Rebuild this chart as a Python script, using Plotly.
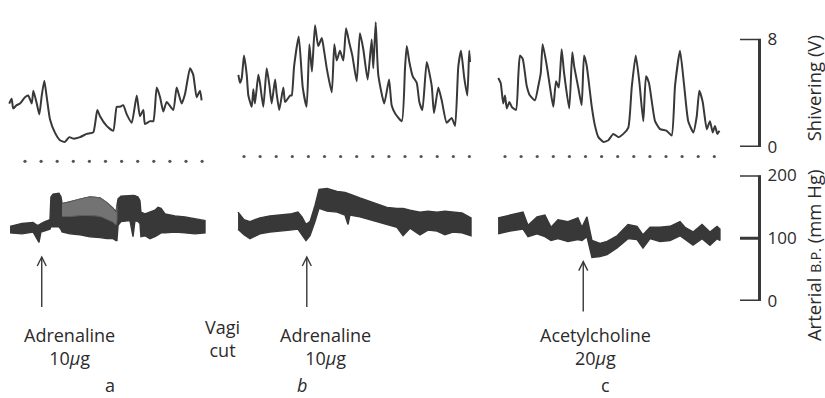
import plotly.graph_objects as go

W, H = 825, 398
FONT = "Open Sans"
INK = "#383838"
TXT = "#2b2b2b"

# ---------------- data (time in marker intervals, shivering in V, B.P. in mm Hg) -------------
shiv_a_t = [-0.98,-0.83,-0.73,-0.52,-0.31,0,0.2,0.42,0.52,0.73,0.89,1.04,1.2,1.35,1.55,1.86,2.17,2.48,2.75,3.0,
            3.42,3.83,4.24,4.49,4.66,5.07,5.48,5.7,5.9,6.1,6.32,6.63,6.94,7.14,7.35,7.45,7.76,7.97,8.18,8.39,
            8.59,8.8,9.21,9.42,9.73,9.94,10.25,10.45,10.66,10.87,10.97]
shiv_a_v = [3.21,3.56,2.85,3.09,3.21,3.68,3.8,3.21,4.16,3.21,2.41,3.8,4.9,3.68,2.05,1.06,0.5,0.38,0.73,0.62,
            0.73,0.97,1.08,2.74,2.27,1.56,1.2,2.97,2.97,3.09,2.41,1.79,3.8,2.27,2.74,1.7,1.91,1.91,4.39,3.68,
            2.62,3.33,2.74,4.39,3.21,3.92,5.81,5.33,3.68,4.16,3.45]

shiv_b_t = [-0.35,-0.25,-0.14,0,0.17,0.27,0.48,0.58,0.68,0.89,0.99,1.2,1.41,1.57,1.72,1.93,2.03,2.19,2.44,2.55,
            2.65,2.86,2.96,3.11,3.4,3.65,3.89,4.06,4.22,4.41,4.61,4.83,4.93,5.14,5.45,5.61,5.76,5.96,6.17,6.34,
            6.54,6.73,7.0,7.2,7.41,7.68,7.93,8.03,8.18,8.34,8.71,9.01,9.17,9.38,9.8,10.0,10.11,10.27,10.48,10.73,
            10.89,11.08,11.35,11.66,11.8,12.07,12.28,12.59,12.9,13.11,13.31,13.48,13.68,13.87,13.99,14.04]
shiv_b_v = [5.33,4.74,5.10,6.75,5.33,3.80,2.97,4.27,3.21,5.33,4.74,2.97,5.81,4.62,3.21,4.98,3.92,2.74,4.39,3.33,
            3.45,3.80,3.80,5.93,8.16,4.39,2.97,7.58,5.57,8.99,7.45,8.05,7.45,5.81,4.04,7.58,6.39,7.10,6.39,8.76,
            7.70,6.75,4.86,8.40,7.22,4.98,7.93,5.81,9.22,5.33,3.21,4.98,3.09,2.50,1.91,5.81,7.45,6.28,5.22,4.74,
            3.33,2.74,6.28,4.51,2.50,4.39,3.45,1.79,2.15,1.56,5.93,7.10,5.10,3.80,7.10,6.28]

shiv_c_t = [-0.42,-0.27,-0.11,0,0.11,0.27,0.42,0.68,0.83,0.93,1.1,1.35,1.55,1.86,2.07,2.22,2.34,2.59,2.8,3.0,
            3.17,3.34,3.52,3.66,3.99,4.18,4.3,4.55,4.76,4.91,5.07,5.39,5.59,5.8,6.11,6.42,6.73,7.04,7.35,7.66,
            7.87,8.12,8.34,8.59,8.76,8.94,9.32,9.63,10.04,10.35,10.56,10.87,11.12,11.38,11.7,11.91,12.07,12.28,
            12.53,12.73,12.9,13.04,13.19,13.32]
shiv_c_v = [5.10,4.74,3.21,3.80,2.85,3.33,2.97,2.74,5.33,6.75,6.51,4.51,3.80,3.45,4.51,5.45,7.58,6.04,4.39,2.97,
            4.86,4.39,7.22,5.57,2.85,6.99,5.93,4.39,3.09,6.75,6.04,2.97,1.56,0.73,0.38,0.50,0.97,0.73,0.97,1.44,
            4.39,6.75,4.86,1.91,5.22,4.74,1.91,1.32,1.20,0.85,4.51,7.10,4.62,1.91,1.08,2.27,4.16,3.33,
            1.32,1.91,1.08,1.56,0.97,1.20]

bp_a_t = [-0.93,-0.19,0.5,0.75,0.87,0.99,1.24,1.55,1.61,1.74,2.11,2.24,2.3,2.8,3.42,4.04,4.66,5.09,5.47,5.65,
          5.71,5.78,5.96,6.52,6.71,6.83,7.02,7.14,7.2,7.45,7.76,8.07,8.26,8.45,8.7,9.32,9.94,10.56,11.18]
bp_a_sys = [118.8,123.3,124.8,120.3,121.0,123.3,126.3,129.3,165.4,169.9,171.4,165.4,154.9,157.9,162.4,165.4,163.9,
            156.4,147.4,141.4,151.9,162.4,166.9,168.4,168.0,167.5,165.4,159.4,141.4,138.4,141.4,144.4,148.9,147.4,
            138.4,135.3,133.8,130.8,127.8]
bp_a_dia = [108.3,106.8,109.8,99.2,93.2,109.8,111.3,114.3,118.0,118.0,118.0,113.8,109.8,106.8,105.3,102.3,100.8,
            99.2,99.2,96.2,96.2,120.3,126.3,127.8,102.3,127.8,126.3,123.3,102.3,103.8,99.2,102.3,105.3,108.3,
            108.3,109.8,108.3,106.8,108.3]

bp_b_t = [-0.37,0,0.37,0.99,1.61,2.24,2.86,3.35,3.6,3.85,4.1,4.41,4.66,5.16,5.78,6.27,6.46,6.58,7.2,8.01,
          8.88,9.5,9.88,10.31,10.93,11.43,11.99,12.48,12.98,13.54,14.1]
bp_b_sys = [141.4,129.3,126.3,132.3,135.3,136.8,138.3,141.4,133.8,121.8,126.3,151.9,177.4,179.0,174.4,172.9,171.4,
            169.9,163.9,156.4,148.9,147.4,147.4,144.4,141.4,142.9,141.4,142.9,141.4,139.9,132.3]
bp_b_dia = [114.3,105.3,99.2,106.8,109.8,111.3,112.8,114.3,105.3,96.2,103.8,126.3,147.4,142.9,141.4,136.8,121.8,
            136.8,133.8,127.8,121.8,117.3,103.8,115.8,105.3,112.8,111.3,105.3,109.8,108.3,103.8]

bp_c_t = [-0.43,0.31,1.12,1.43,1.99,2.48,2.86,3.29,3.91,4.53,4.78,5.09,5.4,5.9,6.34,6.96,7.64,8.2,8.57,9.01,
          9.63,10.25,10.87,11.18,11.68,12.24,12.73,13.17,13.35]
bp_c_sys = [132.3,136.8,141.4,120.3,133.8,136.8,117.3,129.3,126.3,132.3,117.3,133.8,96.2,91.7,94.7,103.8,121.8,
            118.8,105.3,117.3,117.3,118.8,126.3,117.3,109.8,121.8,109.8,118.8,114.3]
bp_c_dia = [106.8,111.3,114.3,102.3,106.8,102.3,96.2,99.2,94.7,97.7,96.2,102.3,69.2,70.7,73.7,84.2,99.2,97.7,
            84.2,99.2,94.7,96.2,103.8,97.7,88.7,99.2,88.7,99.2,96.2]

# segment of trace a where the pen swings widely (drawn lighter), as sample indices
bp_a_light = (12, 21)

# time-marker dots
marks_a = list(range(12))
marks_b = list(range(15))
marks_c = list(range(14))
mark_level = [-1.06, -0.70, -0.70]      # V

# injection times (marker intervals)
dose_t = [1.04, 3.9, 4.86]
dose_text = ["Adrenaline<br>10<i>μ</i>g", "Adrenaline<br>10<i>μ</i>g", "Acetylcholine<br>20<i>μ</i>g"]
panel_letters = ["a", "<i>b</i>", "c"]

shiv_ticks = [0, 8]
bp_ticks = [0, 100, 200]

# ---------------- geometry ----------------
PX_PER_T = 16.1
panel_px = [(8, 207, 25), (236, 474, 244), (496, 722, 505)]   # left, right, px of t=0
SH0, SH_PER = 143.3, 14.375
BP0, BP_PER = 306.7, 0.667
BAR_X = 759.5
TICK_L = 740

def yf(py):
    return 1 - py / H

def v_at(py):
    return (SH0 - py) / SH_PER

def p_at(py):
    return (BP0 - py) / BP_PER

fig = go.Figure()
xnames = ["x", "x2", "x3"]
shiv = [(shiv_a_t, shiv_a_v), (shiv_b_t, shiv_b_v), (shiv_c_t, shiv_c_v)]
bps = [(bp_a_t, bp_a_sys, bp_a_dia), (bp_b_t, bp_b_sys, bp_b_dia), (bp_c_t, bp_c_sys, bp_c_dia)]
marks = [marks_a, marks_b, marks_c]

for i in range(3):
    t, v = shiv[i]
    fig.add_trace(go.Scatter(x=t, y=v, xaxis=xnames[i], yaxis="y", mode="lines",
                             line=dict(color=INK, width=2.0, shape="spline", smoothing=0.5),
                             hoverinfo="skip", showlegend=False))
    bt, bs, bd = bps[i]
    fig.add_trace(go.Scatter(x=bt + bt[::-1], y=bs + bd[::-1], xaxis=xnames[i], yaxis="y2",
                             mode="lines", fill="toself", fillcolor=INK,
                             line=dict(color=INK, width=1.4), hoverinfo="skip", showlegend=False))
    if i == 0:
        a, b = bp_a_light
        lt = bt[a:b]
        top = bs[a:b]
        mid = [(s + d) / 2 + 2 for s, d in zip(bs[a:b], bd[a:b])]
        fig.add_trace(go.Scatter(x=lt + lt[::-1], y=top + mid[::-1], xaxis="x", yaxis="y2",
                                 mode="lines", fill="toself", fillcolor="#737373",
                                 line=dict(color="#5e5e5e", width=1.0, shape="spline", smoothing=0.6),
                                 hoverinfo="skip", showlegend=False))
    fig.add_trace(go.Scatter(x=marks[i], y=[mark_level[i]] * len(marks[i]), xaxis=xnames[i], yaxis="y",
                             mode="markers", marker=dict(size=3.2, color="#555555"),
                             hoverinfo="skip", showlegend=False, cliponaxis=False))

# dummy traces that carry the scale axes
fig.add_trace(go.Scatter(x=[0.5], y=[0], xaxis="x4", yaxis="y3", mode="markers",
                         marker=dict(opacity=0), hoverinfo="skip", showlegend=False))
fig.add_trace(go.Scatter(x=[0.5], y=[0], xaxis="x4", yaxis="y4", mode="markers",
                         marker=dict(opacity=0), hoverinfo="skip", showlegend=False))

layout = dict(
    width=W, height=H, margin=dict(l=0, r=0, t=0, b=0),
    paper_bgcolor="white", plot_bgcolor="rgba(0,0,0,0)",
    font=dict(family=FONT, color=TXT),
    showlegend=False,
)
for i, (l, r, z) in enumerate(panel_px):
    key = "xaxis" if i == 0 else "xaxis%d" % (i + 1)
    layout[key] = dict(domain=[l / W, r / W], range=[(l - z) / PX_PER_T, (r - z) / PX_PER_T],
                       visible=False, fixedrange=True)
layout["xaxis4"] = dict(domain=[0, 1], range=[0, 1], visible=False)
layout["yaxis"] = dict(domain=[yf(165), yf(5)], range=[v_at(165), v_at(5)], visible=False)
layout["yaxis2"] = dict(domain=[yf(335), yf(165)], range=[p_at(335), p_at(165)], visible=False)

scale_common = dict(anchor="free", position=BAR_X / W, side="right", ticks="",
                    showline=False, showgrid=False, zeroline=False, ticklabelstandoff=7,
                    tickfont=dict(family=FONT, size=17, color=TXT))
layout["yaxis3"] = dict(domain=[yf(SH0), yf(SH0 - 8 * SH_PER)], range=[0, 8],
                        tickvals=shiv_ticks, **scale_common)
layout["yaxis4"] = dict(domain=[yf(BP0), yf(BP0 - 200 * BP_PER)], range=[0, 200],
                        tickvals=bp_ticks, **scale_common)
fig.update_layout(**layout)

# scale bars (vertical bar + tick marks), in the scale axes' own units
for yref, ticks in (("y3", shiv_ticks), ("y4", bp_ticks)):
    fig.add_shape(type="line", xref="paper", yref=yref, x0=BAR_X / W, x1=BAR_X / W,
                  y0=min(ticks), y1=max(ticks), line=dict(color=INK, width=3))
    for tv in ticks:
        fig.add_shape(type="line", xref="paper", yref=yref, x0=TICK_L / W, x1=(BAR_X + 1.5) / W,
                      y0=tv, y1=tv, line=dict(color=INK, width=3))

# arrows for injections
arrow_px = [(260, 313), (260, 313), (265, 318)]
for i in range(3):
    tip, base = arrow_px[i]
    fig.add_shape(type="line", xref=xnames[i], yref="y2", x0=dose_t[i], x1=dose_t[i],
                  y0=p_at(base), y1=p_at(tip), line=dict(color=INK, width=1.4))
    fig.add_shape(type="path", xref=xnames[i], yref="y2", xsizemode="pixel", ysizemode="pixel",
                  xanchor=dose_t[i], yanchor=p_at(tip), path="M -4.5,-9 L 0,0 L 4.5,-9",
                  line=dict(color=INK, width=1.4))

# text labels
def label(text, px, py, size=18, angle=0):
    fig.add_annotation(text=text, x=px / W, y=yf(py), xref="paper", yref="paper", showarrow=False,
                       xanchor="center", yanchor="middle", textangle=angle, align="center",
                       font=dict(family=FONT, size=size, color=TXT))

text_px = [(69, 355), (325, 355), (595, 355)]
letter_px = [(110, 395.5), (302, 395.5), (605, 395.5)]
for i in range(3):
    label(dose_text[i], *text_px[i])
    label(panel_letters[i], *letter_px[i])
label("Vagi<br>cut", 222, 347)
label("Shivering (V)", 813, 81, size=18.5, angle=-90)
label("Arterial <span style='font-size:14px'>B.P.</span> (mm Hg)", 813, 258, size=18.5, angle=-90)

fig.write_html("out.html")
